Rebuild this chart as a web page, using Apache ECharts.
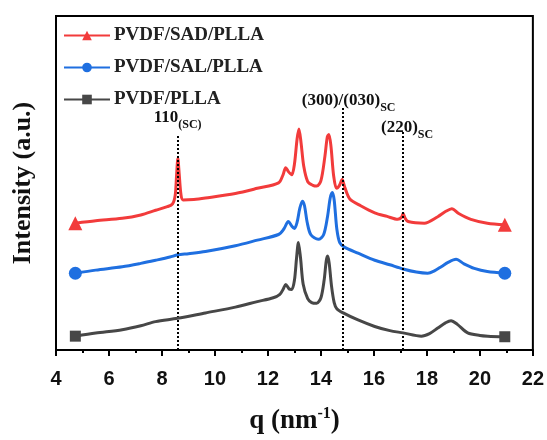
<!DOCTYPE html>
<html>
<head>
<meta charset="utf-8">
<script src="https://cdn.jsdelivr.net/npm/echarts@6/dist/echarts.min.js"></script>
<style>
html,body{margin:0;padding:0;background:#fff;}
#chart{width:547px;height:440px;}
</style>
</head>
<body>
<div id="chart"></div>
<script>
// q (nm^-1) and intensity (a.u., offset curves)
const seriesNames = ['PVDF/SAD/PLLA', 'PVDF/SAL/PLLA', 'PVDF/PLLA'];

const redQ = [4.73,5.5,6.5,7.2,7.76,8.2,8.4,8.5,8.55,8.6,8.65,8.72,8.8,9.2,9.64,10.77,11.6,12.4,12.57,12.67,12.78,12.9,13.0,13.1,13.17,13.25,13.35,13.5,13.7,13.84,14.0,14.15,14.24,14.3,14.38,14.48,14.59,14.7,14.8,14.9,15.09,15.5,16.03,16.5,16.9,17.04,17.1,17.18,17.29,17.9,18.41,18.7,18.94,19.2,19.66,20.28,20.94];
const redI = [131,133.5,136,139.5,144.3,148,151,160,180,197.7,182,160,155,155.5,157,161.7,167,172.7,181,188.3,184,181,192,218,228.3,214,190,174,170,169.3,175,200,220,222.7,210,180,167,170,176,168,156,149,141.7,138,135,137,141,136,132.7,131,137.7,143,146,141,135,131,129.3];

const blueQ = [4.73,5.5,6.5,7.2,7.76,8.3,8.59,9.0,9.64,10.77,11.6,12.4,12.6,12.77,12.9,13.0,13.1,13.2,13.3,13.38,13.48,13.62,13.9,14.1,14.25,14.35,14.43,14.5,14.6,14.71,14.9,15.4,16.03,16.6,17.1,17.6,18.03,18.3,18.54,18.8,19.1,19.4,19.79,20.28,20.94];
const blueI = [79.3,82.5,86,89.5,92.7,96,98.3,99.5,101.7,107.7,113.5,119.3,125,132.7,128,125.5,132,146,153.7,149,132,119,114.3,119,138,157,162.7,155,125,111,106,100,92.7,88,83.7,80.5,79.3,82,86,90.5,93.7,89,84.3,81,79.3];

const blackQ = [4.73,5.5,6.5,7.2,7.76,8.59,9.64,10.77,11.6,12.2,12.45,12.58,12.67,12.8,12.9,13.0,13.08,13.15,13.23,13.33,13.5,13.65,13.84,14.0,14.12,14.2,14.25,14.31,14.4,14.5,14.6,14.84,15.4,16.03,16.6,17.1,17.79,18.1,18.41,18.7,18.91,19.15,19.54,20.0,20.3,20.94];
const blackI = [14.3,17.5,21,25,29.3,32.7,38.3,44.3,50,54,57.5,63,67.7,63,62.5,72,95,111,95,68,53,49,48.3,54,72,92,97,90,66,49,42.7,38.3,31,24.3,20,17.7,14.3,17,22.7,28,30.3,26.5,17.7,15,14.3,13.7];

// reflection positions (q) and top of the dotted guide lines
const refQ = [8.59, 14.82, 17.1];
const refTop = [223, 251, 226];
const refMain = ['110', '(300)/(030)', '(220)'];
const refSub = ['(SC)', 'SC', 'SC'];

const xTicks = {min: 4, max: 22, interval: 2};

function zip(a, b) { return a.map((v, i) => [v, b[i]]); }

const colors = ['#f23b3b', '#1f6fe0', '#474747'];
const symbols = ['triangle', 'circle', 'rect'];
const endSizes = [14, 13, 11];
const datas = [zip(redQ, redI), zip(blueQ, blueI), zip(blackQ, blackI)];

const serif = '"Liberation Serif", "Times New Roman", serif';

const series = seriesNames.map((name, k) => ({
  name: name,
  type: 'line',
  data: datas[k],
  smooth: 0.3,
  symbol: symbols[k],
  showSymbol: true,
  showAllSymbol: true,
  symbolSize: function (val, p) {
    return (p.dataIndex === 0 || p.dataIndex === datas[k].length - 1) ? endSizes[k] : 0;
  },
  lineStyle: {color: colors[k], width: 3},
  itemStyle: {color: colors[k]},
  z: 3 + k,
  emphasis: {disabled: true},
  animation: false
}));

const labelDist = [3, -7, -10];
const labelPadLeft = [0, 12, 8];

series.push({
  name: 'refs',
  type: 'line',
  data: [],
  silent: true,
  markLine: {
    silent: true,
    symbol: 'none',
    animation: false,
    lineStyle: {color: '#000', type: [2, 2], width: 2},
    label: {show: true},
    data: refQ.map((q, i) => [
      {coord: [q, 0]},
      {
        coord: [q, refTop[i]],
        label: {
          show: true,
          position: 'end',
          distance: labelDist[i],
          padding: [0, 0, 0, labelPadLeft[i]],
          formatter: '{m|' + refMain[i] + '}{s|' + refSub[i] + '}',
          rich: {
            m: {fontFamily: serif, fontWeight: 'bold', fontSize: 17, color: '#111', verticalAlign: 'bottom', padding: [0, 0, 5, 0]},
            s: {fontFamily: serif, fontWeight: 'bold', fontSize: 12, color: '#111', verticalAlign: 'bottom'}
          }
        }
      }
    ])
  }
});

const chart = echarts.init(document.getElementById('chart'), null, {renderer: 'canvas'});
chart.setOption({
  animation: false,
  backgroundColor: '#fff',
  grid: {left: 56, right: 12, top: 16, bottom: 79, show: true, borderColor: '#000', borderWidth: 2, backgroundColor: 'transparent'},
  legend: {
    data: seriesNames,
    orient: 'vertical',
    left: 63,
    top: 26,
    padding: 0,
    itemWidth: 46,
    itemHeight: 12,
    itemGap: 13,
    textStyle: {fontFamily: serif, fontWeight: 'bold', fontSize: 19, color: '#222', padding: [0, 0, 0, -1]},
    selectedMode: false
  },
  xAxis: {
    type: 'value',
    min: xTicks.min,
    max: xTicks.max,
    interval: xTicks.interval,
    name: '{a|q (nm}{s|-1}{a|)}',
    nameLocation: 'middle',
    nameGap: 56,
    nameTextStyle: {
      rich: {
        a: {fontFamily: serif, fontWeight: 'bold', fontSize: 27, color: '#111', verticalAlign: 'bottom'},
        s: {fontFamily: serif, fontWeight: 'bold', fontSize: 16, color: '#111', verticalAlign: 'bottom', padding: [0, 0, 13, 0]}
      }
    },
    axisLine: {show: true, onZero: false, lineStyle: {color: '#000', width: 2}},
    axisTick: {show: true, inside: false, length: 6, lineStyle: {color: '#000', width: 2}},
    minorTick: {show: true, splitNumber: 2, length: 3, lineStyle: {color: '#000', width: 2}},
    axisLabel: {margin: 19, fontFamily: '"Liberation Sans", Arial, sans-serif', fontWeight: 'bold', fontSize: 20, color: '#111'},
    splitLine: {show: false}
  },
  yAxis: {
    type: 'value',
    min: 0,
    max: 345,
    name: 'Intensity (a.u.)',
    nameLocation: 'middle',
    nameGap: 20,
    nameTextStyle: {fontFamily: serif, fontWeight: 'bold', fontSize: 26, color: '#111'},
    axisLine: {show: true, lineStyle: {color: '#000', width: 2}},
    axisTick: {show: false},
    axisLabel: {show: false},
    splitLine: {show: false}
  },
  series: series
});
</script>
</body>
</html>
